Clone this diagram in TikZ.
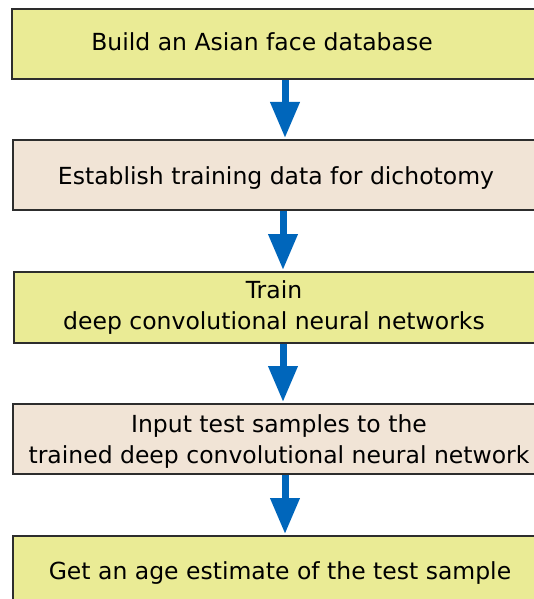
\documentclass[tikz,border=0pt]{standalone}
\usepackage{fontspec}
\setmainfont{DejaVu Sans}
\usetikzlibrary{arrows.meta}
\definecolor{yel}{RGB}{234,235,149}
\definecolor{beige}{RGB}{241,228,214}
\definecolor{edge}{RGB}{45,45,45}
\definecolor{arrblue}{RGB}{0,102,187}
\tikzset{
  box/.style={draw=edge, line width=2pt, rectangle, anchor=north west, minimum width=549pt, inner sep=0pt},
  txt/.style={font=\fontsize{23.5pt}{31pt}\selectfont, align=center, inner sep=0pt, text=black},
  flow/.style={draw=arrblue, line width=7pt, -{Triangle[width=28pt,length=36pt]}, shorten >=1pt}
}
\begin{document}
\begin{tikzpicture}[x=1pt,y=-1pt]
\useasboundingbox (0,0) rectangle (534,599);
\clip (0,0) rectangle (534,599);
\fill[white] (0,0) rectangle (534,599);
\node[box, fill=yel, minimum height=70pt] (b1) at (11,8) {};
\node[box, fill=beige, minimum height=70pt] (b2) at (12,139) {};
\node[box, fill=yel, minimum height=71pt] (b3) at (13,271) {};
\node[box, fill=beige, minimum height=70pt] (b4) at (12,403) {};
\node[box, fill=yel, minimum height=70pt] (b5) at (12,535) {};
\node[txt] (t1) at (262,42) {Build an Asian face database};
\node[txt] (t2) at (276,178) {Establish training data for dichotomy};
\node[txt] (t3) at (274,308) {Train\\deep convolutional neural networks};
\node[txt] (t4) at (279,442) {Input test samples to the\\trained deep convolutional neural network};
\node[txt] (t5) at (280,573) {Get an age estimate of the test sample};
\coordinate (x1) at (285,0);
\coordinate (x2) at (283,0);
\coordinate (x3) at (283,0);
\coordinate (x4) at (285,0);
\draw[flow] (b1.south -| x1) -- (b2.north -| x1);
\draw[flow] (b2.south -| x2) -- (b3.north -| x2);
\draw[flow] (b3.south -| x3) -- (b4.north -| x3);
\draw[flow] (b4.south -| x4) -- (b5.north -| x4);
\end{tikzpicture}
\end{document}
